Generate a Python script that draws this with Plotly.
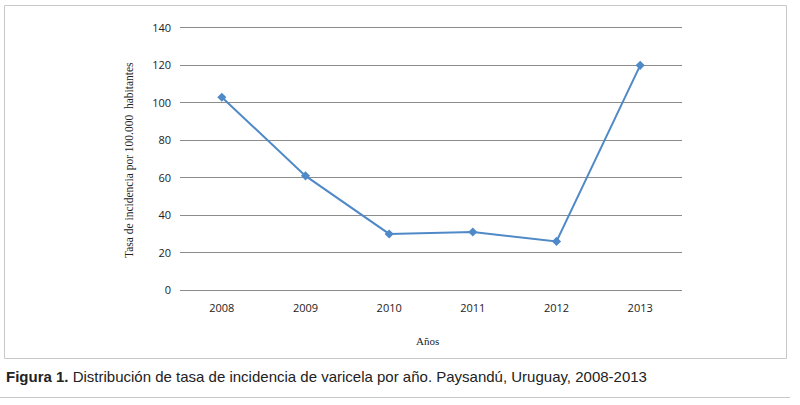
import plotly.graph_objects as go

years = ["2008", "2009", "2010", "2011", "2012", "2013"]
tasa = [103, 61, 30, 31, 26, 120]
y_ticks = [0, 20, 40, 60, 80, 100, 120, 140]

W, H = 800, 405
L, R, T, B = 180, 118, 26, 113
PW, PH = W - L - R, H - T - B


def px(x):
    return (x - L) / PW


def py(y):
    return (H - B - y) / PH


fig = go.Figure()
fig.add_trace(go.Scatter(
    x=years, y=tasa, mode="lines+markers",
    line=dict(color="#4F89C8", width=2),
    marker=dict(symbol="diamond", size=7, color="#4F89C8"),
    showlegend=False,
))

fig.update_layout(
    width=W, height=H,
    margin=dict(l=L, r=R, t=T, b=B),
    paper_bgcolor="white", plot_bgcolor="white",
    xaxis=dict(
        type="category", range=[-0.5, 5.5], showgrid=False, zeroline=False,
        showline=False, ticks="", tickfont=dict(family="Open Sans", size=11, color="#222"),
        ticklabelstandoff=8,
    ),
    yaxis=dict(
        range=[-1, 141], tickvals=y_ticks, showgrid=True, gridcolor="#8c8c8c", gridwidth=1,
        zeroline=False, showline=False, ticks="",
        tickfont=dict(family="Open Sans", size=11, color="#222"),
        ticklabelstandoff=8,
    ),
    shapes=[
        dict(type="rect", xref="paper", yref="paper",
             x0=px(4.5), x1=px(786.5), y0=py(358.5), y1=py(5.5),
             line=dict(color="#c8c8c8", width=1), layer="below"),
        dict(type="line", xref="paper", yref="paper",
             x0=px(0), x1=px(790), y0=py(397.5), y1=py(397.5),
             line=dict(color="#c8c8c8", width=1)),
    ],
    annotations=[
        dict(text="Tasa de incidencia por 100.000  habitantes", xref="paper", yref="paper",
             x=px(129), y=py(160), textangle=-90,
             showarrow=False, xanchor="center", yanchor="middle",
             font=dict(family="Liberation Serif", size=11.5, color="#222")),
        dict(text="Años", xref="paper", yref="paper",
             x=px(427), y=py(341), showarrow=False, xanchor="center", yanchor="middle",
             font=dict(family="Liberation Serif", size=11, color="#222")),
        dict(text="<b>Figura 1.</b> Distribución de tasa de incidencia de varicela por año. Paysandú, Uruguay, 2008-2013",
             xref="paper", yref="paper", x=px(4), y=py(376),
             showarrow=False, xanchor="left", yanchor="middle",
             font=dict(family="Liberation Sans Narrow, Liberation Sans", size=15, color="#222")),
    ],
)

fig.write_html("out.html", config={"displayModeBar": False},
               post_script="document.body.style.margin='0';document.body.style.overflow='hidden';")
